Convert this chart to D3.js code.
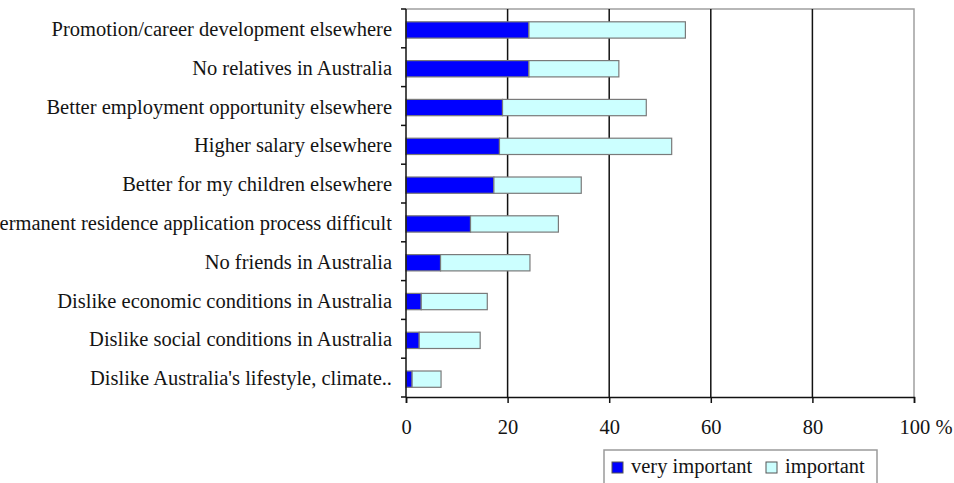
<!DOCTYPE html>
<html>
<head>
<meta charset="utf-8">
<script src="https://cdn.jsdelivr.net/npm/d3@7"></script>
<style>
  html, body { margin: 0; padding: 0; background: #fff; }
  svg { display: block; font-family: "Liberation Serif", "Times New Roman", serif; }
</style>
</head>
<body>
<svg id="chart" width="954" height="483"></svg>
<script>
// Reasons for leaving Australia (% of respondents)
const reasons = [
  "Promotion/career development elsewhere",
  "No relatives in Australia",
  "Better employment opportunity elsewhere",
  "Higher salary elsewhere",
  "Better for my children elsewhere",
  "Permanent residence application process difficult",
  "No friends in Australia",
  "Dislike economic conditions in Australia",
  "Dislike social conditions in Australia",
  "Dislike Australia's lifestyle, climate.."
];
const veryImportant = [24.2, 24.2, 19.0, 18.4, 17.3, 12.7, 6.8, 3.0, 2.6, 1.2];
const important     = [30.8, 17.7, 28.3, 33.9, 17.2, 17.3, 17.6, 13.0, 12.0, 5.7];
const seriesNames = ["very important", "important"];
const xTicks = [0, 20, 40, 60, 80, 100];

const W = 954, H = 483;
const margin = { top: 9, right: 40, bottom: 86, left: 406 };
const iw = W - margin.left - margin.right;
const ih = H - margin.top - margin.bottom;
const fontSize = 20.5;

const svg = d3.select("#chart");
const g = svg.append("g").attr("transform", `translate(${margin.left},${margin.top})`);

const x = d3.scaleLinear().domain([0, 100]).range([0, iw]);
const y = d3.scaleBand().domain(reasons).range([0, ih]);
const color = d3.scaleOrdinal().domain(seriesNames).range(["#0000ff", "#ccffff"]);

const rows = reasons.map((r, i) => ({ reason: r, "very important": veryImportant[i], "important": important[i] }));
const stacked = d3.stack().keys(seriesNames)(rows);

// plot frame (top and right edges)
g.append("path")
  .attr("d", `M0,0H${iw}V${ih}`)
  .attr("fill", "none").attr("stroke", "#a0a0a0").attr("stroke-width", 1.5);

// vertical gridlines
g.append("g").selectAll("line")
  .data(xTicks.filter(t => t > 0 && t < 100))
  .join("line")
  .attr("x1", d => x(d)).attr("x2", d => x(d))
  .attr("y1", 0).attr("y2", ih)
  .attr("stroke", "#111").attr("stroke-width", 1.5);

// stacked bars
const barTop = y.bandwidth() * 0.33;
const barH = y.bandwidth() * 0.42;
g.append("g").selectAll("g")
  .data(stacked)
  .join("g")
  .attr("fill", d => color(d.key))
  .selectAll("rect")
  .data(d => d.map((v, i) => ({ v, reason: reasons[i] })))
  .join("rect")
  .attr("x", d => x(d.v[0]))
  .attr("width", d => x(d.v[1]) - x(d.v[0]))
  .attr("y", d => y(d.reason) + barTop)
  .attr("height", barH)
  .attr("stroke", "#7a7a7a").attr("stroke-width", 1.2);

// left axis: category boundary ticks
const yAxis = g.append("g");
yAxis.append("line").attr("x1", 0).attr("x2", 0).attr("y1", 0).attr("y2", ih)
  .attr("stroke", "#111").attr("stroke-width", 1.5);
yAxis.selectAll("line.tk")
  .data(d3.range(reasons.length + 1))
  .join("line").attr("class", "tk")
  .attr("x1", -5).attr("x2", 0)
  .attr("y1", i => i * y.step()).attr("y2", i => i * y.step())
  .attr("stroke", "#111").attr("stroke-width", 1.5);
yAxis.selectAll("text")
  .data(reasons)
  .join("text")
  .attr("x", -14)
  .attr("y", d => y(d) + y.bandwidth() / 2 + 0.5)
  .attr("dy", "0.35em")
  .attr("text-anchor", "end")
  .attr("font-size", fontSize)
  .attr("fill", "#141414")
  .text(d => d);

// bottom axis
const xAxis = g.append("g").attr("transform", `translate(0,${ih})`)
  .call(d3.axisBottom(x).tickValues(xTicks).tickSize(6).tickPadding(16).tickFormat(d3.format("d")));
xAxis.select(".domain").attr("stroke", "#111").attr("stroke-width", 1.5);
xAxis.selectAll(".tick line").attr("stroke", "#111").attr("stroke-width", 1.5);
xAxis.selectAll(".tick text")
  .attr("font-size", fontSize).attr("font-family", "Liberation Serif, Times New Roman, serif")
  .attr("fill", "#141414");
// percent unit after the last tick label
xAxis.selectAll(".tick").filter(d => d === 100).select("text")
  .attr("text-anchor", "start").attr("x", -15)
  .text("100 %");

// legend
const legend = svg.append("g").attr("transform", "translate(604,450)");
legend.append("rect")
  .attr("width", 273).attr("height", 45)
  .attr("fill", "#fff").attr("stroke", "#9a9a9a").attr("stroke-width", 1.5);
const legendX = [8, 162];
const items = legend.selectAll("g.item")
  .data(seriesNames)
  .join("g").attr("class", "item")
  .attr("transform", (d, i) => `translate(${legendX[i]},0)`);
items.append("rect")
  .attr("y", 12).attr("width", 11).attr("height", 11)
  .attr("fill", d => color(d)).attr("stroke", "#555").attr("stroke-width", 1);
items.append("text")
  .attr("x", 19).attr("y", 23)
  .attr("font-size", fontSize).attr("fill", "#141414")
  .text(d => d);
</script>
</body>
</html>
